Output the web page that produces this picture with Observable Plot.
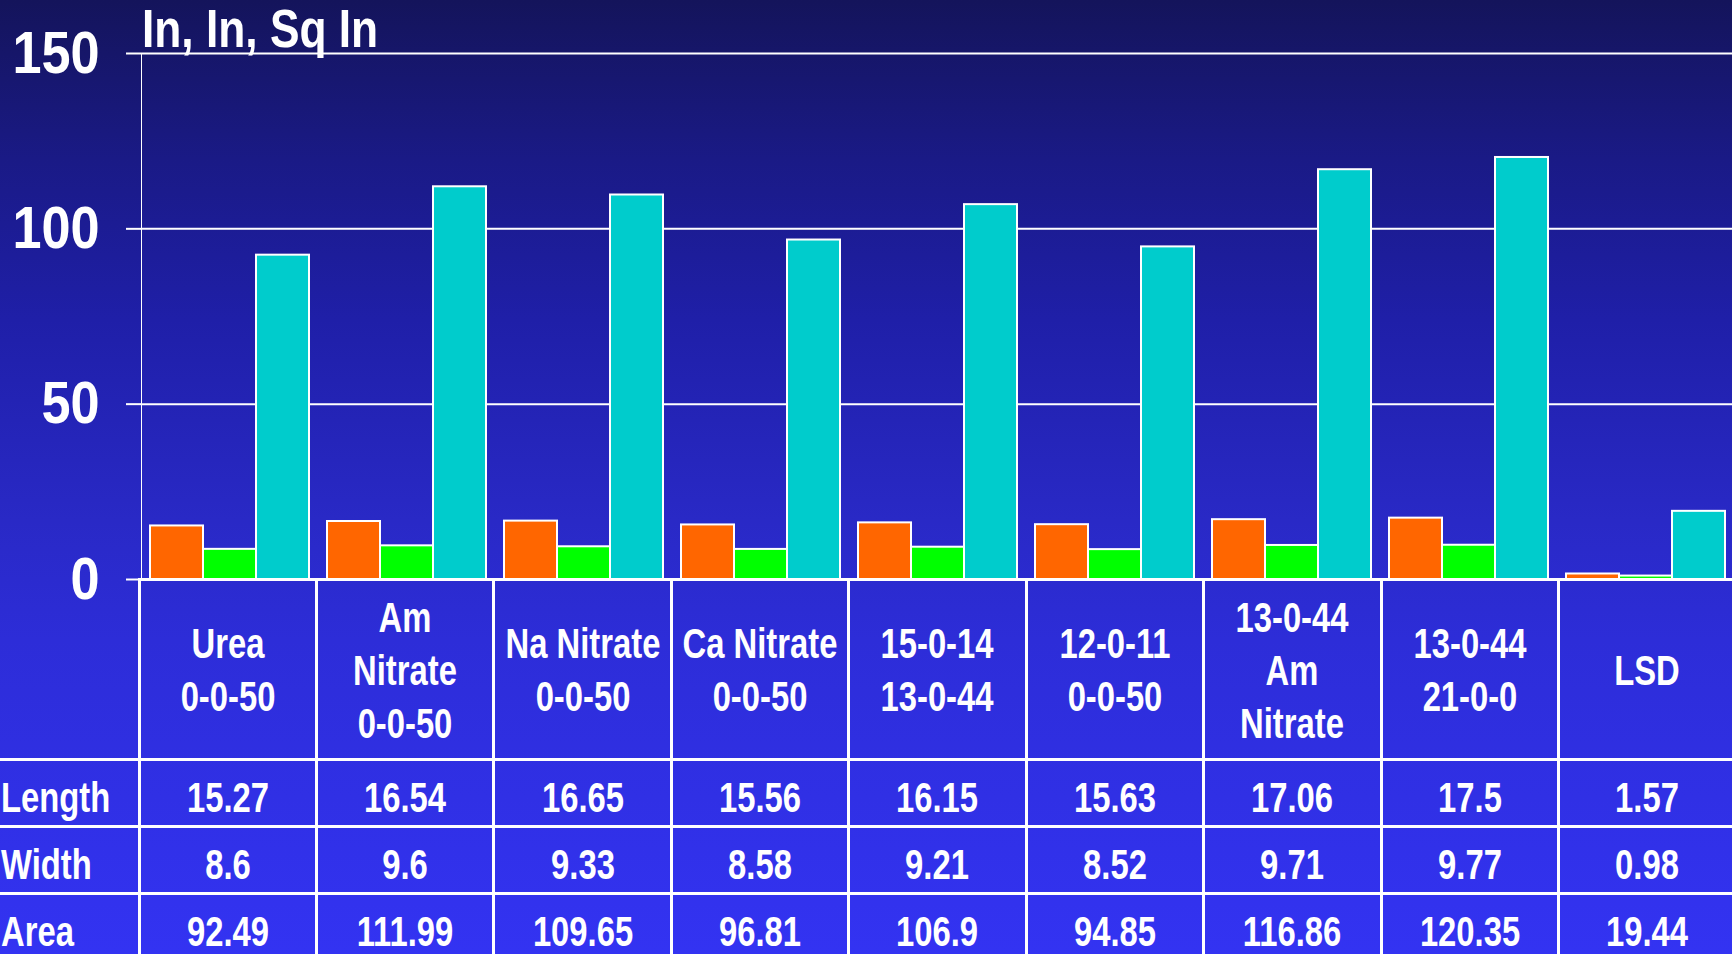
<!DOCTYPE html>
<html>
<head>
<meta charset="utf-8">
<script src="https://cdn.jsdelivr.net/npm/d3@7"></script>
<script src="https://cdn.jsdelivr.net/npm/@observablehq/plot@0.6"></script>
<style>
  html, body { margin: 0; padding: 0; width: 1732px; height: 954px; overflow: hidden; }
  body {
    background: linear-gradient(to bottom, #14145b 0px, #1a1a86 160px, #1f1fa8 320px, #2929c6 520px, #2d2dd8 640px, #3333f2 954px);
    font-family: "Liberation Sans", Arial, sans-serif;
    font-weight: bold;
    color: white;
  }
  #wrap { position: relative; width: 1736px; height: 960px; }
  #chart svg { max-width: none !important; display: block; }
  #unit { position: absolute; left: 142px; top: 1px; font-size: 54px; line-height: 54px; white-space: nowrap; transform: scaleX(0.82); transform-origin: left top; }
  #tbl { position: absolute; left: 0; top: 578px; border-collapse: collapse; table-layout: fixed; width: 1736px; }
  #tbl td { border: 3px solid white; padding: 0; font-size: 42px; color: white; overflow: hidden; }
  #tbl td > div { position: relative; width: 100%; }
  #tbl td span { position: absolute; white-space: pre; text-align: center; }
  #tbl td.mid span { left: 50%; transform: translate(-50%, -50%) scaleX(0.78); transform-origin: center center; }
  #tbl td.lab span { left: 1px; transform: translate(0, -50%) scaleX(0.78); transform-origin: left center; }
  #tbl tr td:first-child { border-left: none; }
  #tbl tr.head td:first-child { border-top: none; }
  #tbl tr.head td > div { height: 177px; }
  #tbl tr.head span { top: 50%; line-height: 53px; }
  #tbl tr.val td > div { height: 64px; }
  #tbl tr.val span { top: 37px; line-height: 50px; }
</style>
</head>
<body>
<div id="wrap">
  <div id="chart"></div>
  <div id="unit"></div>
  <table id="tbl"></table>
</div>
<script>
// ---- data ----
const categories = [
  "Urea\n0-0-50",
  "Am\nNitrate\n0-0-50",
  "Na Nitrate\n0-0-50",
  "Ca Nitrate\n0-0-50",
  "15-0-14\n13-0-44",
  "12-0-11\n0-0-50",
  "13-0-44\nAm\nNitrate",
  "13-0-44\n21-0-0",
  "LSD"
];
const seriesNames = ["Length", "Width", "Area"];
const lengthVals = [15.27, 16.54, 16.65, 15.56, 16.15, 15.63, 17.06, 17.5, 1.57];
const widthVals  = [8.6, 9.6, 9.33, 8.58, 9.21, 8.52, 9.71, 9.77, 0.98];
const areaVals   = [92.49, 111.99, 109.65, 96.81, 106.9, 94.85, 116.86, 120.35, 19.44];
const seriesColors = ["#ff6600", "#00ff00", "#00cccc"];
const yTicks = [0, 50, 100, 150];
const unitLabel = "In, In, Sq In";

// ---- build ----
const valueLists = [lengthVals, widthVals, areaVals];
const rows = categories.flatMap((c, i) =>
  seriesNames.map((s, j) => ({category: c, series: s, value: valueLists[j][i]}))
);

const chart = Plot.plot({
  width: 1736,
  height: 581,
  marginTop: 53,
  marginBottom: 2,
  marginLeft: 139,
  marginRight: 0,
  style: {background: "transparent", color: "white", fontFamily: '"Liberation Sans", Arial, sans-serif', fontSize: "60px", fontWeight: "bold", overflow: "visible"},
  facet: {data: rows, x: "category"},
  fx: {domain: categories, padding: 0, axis: null, label: null},
  x: {domain: seriesNames, paddingInner: 0, paddingOuter: 0.14, axis: null, label: null},
  y: {domain: [0, 150], ticks: yTicks, tickSize: 15, tickPadding: 27, line: true, label: null, tickFormat: d => String(d)},
  color: {domain: seriesNames, range: seriesColors},
  marks: [
    Plot.ruleY(yTicks, {stroke: "white", strokeWidth: 2}),
    Plot.barY(rows, {x: "series", y: "value", fill: "series", stroke: "white", strokeWidth: 2}),
    Plot.ruleY([0], {stroke: "white", strokeWidth: 3})
  ]
});
document.getElementById("chart").appendChild(chart);
// thicker axis line / ticks
chart.querySelectorAll('[aria-label^="y-axis"] path, [aria-label^="y-axis"] line').forEach(el => el.setAttribute("stroke-width", 2));
// condense the tick labels (narrow bold face), anchored at their right edge
chart.querySelectorAll('[aria-label^="y-axis"] text').forEach(t => {
  const g = document.createElementNS("http://www.w3.org/2000/svg", "g");
  t.parentNode.insertBefore(g, t);
  g.appendChild(t);
  const b = g.getBBox();
  const r = b.x + b.width;
  g.setAttribute("transform", `translate(${r},0) scale(0.87,1) translate(${-r},0)`);
});

document.getElementById("unit").textContent = unitLabel;

// ---- data table below the chart ----
const tbl = document.getElementById("tbl");
const colgroup = document.createElement("colgroup");
const c0 = document.createElement("col"); c0.style.width = "139px"; colgroup.appendChild(c0);
categories.forEach(() => { const c = document.createElement("col"); c.style.width = (1597 / categories.length) + "px"; colgroup.appendChild(c); });
tbl.appendChild(colgroup);
function cell(text, cls) {
  const td = document.createElement("td"); td.className = cls;
  const d = document.createElement("div");
  const s = document.createElement("span"); s.textContent = text;
  d.appendChild(s); td.appendChild(d);
  return td;
}
const head = document.createElement("tr"); head.className = "head";
head.appendChild(cell("", "lab"));
categories.forEach(c => head.appendChild(cell(c, "mid")));
tbl.appendChild(head);
seriesNames.forEach((s, j) => {
  const tr = document.createElement("tr"); tr.className = "val";
  tr.appendChild(cell(s, "lab"));
  valueLists[j].forEach(v => tr.appendChild(cell(String(v), "mid")));
  tbl.appendChild(tr);
});
</script>
</body>
</html>
